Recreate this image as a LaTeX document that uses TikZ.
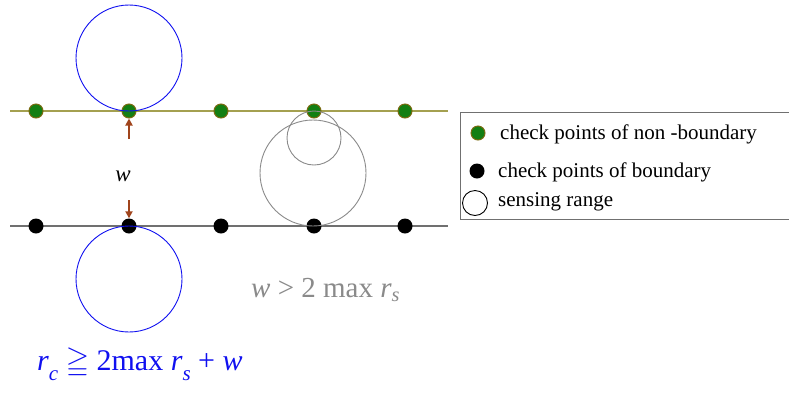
\documentclass[tikz,border=0pt]{standalone}
\usepackage{amssymb}
\usepackage{fontspec}
\setmainfont{Liberation Serif}
\definecolor{ptGreen}{HTML}{137F13}
\definecolor{ptRim}{HTML}{7A6A10}
\definecolor{lineOlive}{HTML}{A4A050}
\definecolor{lineGray}{HTML}{707070}
\definecolor{rangeBlue}{HTML}{1010F0}
\definecolor{rangeGray}{HTML}{8A8A8A}
\definecolor{arrowBrown}{HTML}{A0441C}
\usetikzlibrary{arrows.meta, positioning}

\begin{document}
\begin{tikzpicture}[x=1pt, y=-1pt,
    greenpt/.style={circle, fill=ptGreen, draw=ptRim, line width=1pt, minimum size=14pt, inner sep=0pt},
    blackpt/.style={circle, fill=black, minimum size=15pt, inner sep=0pt},
    bluerange/.style={draw=rangeBlue, line width=0.9pt},
    grayrange/.style={draw=rangeGray, line width=0.9pt},
    warrow/.style={draw=arrowBrown, line width=1.8pt, -{Triangle[length=7pt,width=7pt]}},
    legtext/.style={anchor=west, font=\fontsize{21}{24}\selectfont, inner sep=0pt}]
  \useasboundingbox (0,0) rectangle (789,392);

  % the two rows of check points
  \coordinate (tl) at (10,111);
  \coordinate (tr) at (448,111);
  \coordinate (bl) at (10,226);
  \coordinate (br) at (448,226);
  \draw[lineOlive, line width=1.2pt] (tl) -- (tr);
  \draw[lineGray, line width=1.2pt] (bl) -- (br);
  \foreach \x [count=\i] in {36,129,221,314,405} {
    \node[greenpt] (g\i) at (\x,111) {};
    \node[blackpt] (b\i) at (\x,226) {};
  }

  % sensing ranges
  \draw[bluerange] (129,58) circle (53);
  \draw[bluerange] (129,279) circle (53);
  \draw[grayrange] (313,173) circle (53);
  \draw[grayrange] (314,138) circle (27);

  % width w between the rows
  \node[font=\fontsize{23}{25}\selectfont\itshape] (w) at (123,176) {w};
  \coordinate (wup) at (129,139);
  \coordinate (wdn) at (129,200);
  \draw[warrow] (wup) -- (g2);
  \draw[warrow] (wdn) -- (b2);

  % legend
  \draw[lineGray, line width=0.9pt] (460,112) rectangle (795,219);
  \node[greenpt] (lg) at (478,133) {};
  \node[legtext] (lgt) at (500,134) {check points of non -boundary};
  \node[blackpt] (lb) at (477,171) {};
  \node[legtext] (lbt) at (498,172) {check points of boundary};
  \node[circle, draw=black, line width=0.9pt, minimum size=25pt, inner sep=0pt] (lc) at (475,203) {};
  \node[legtext] (lct) at (498,202) {sensing range};

  % conditions
  \node[anchor=west, inner sep=0pt, text=rangeGray, font=\fontsize{29}{32}\selectfont] (cond)
    at (251,290) {\textit{w} > 2 max \textit{r}\textsubscript{\textit{s}}};
  \node[anchor=west, inner sep=0pt, text=rangeBlue, font=\fontsize{30}{33}\selectfont] (rc)
    at (37,364) {\textit{r}\raisebox{-10pt}{\fontsize{21}{21}\selectfont\textit{c}} $\geqq$ 2max \textit{r}\raisebox{-10pt}{\fontsize{21}{21}\selectfont\textit{s}} + \textit{w}};
\end{tikzpicture}
\end{document}
